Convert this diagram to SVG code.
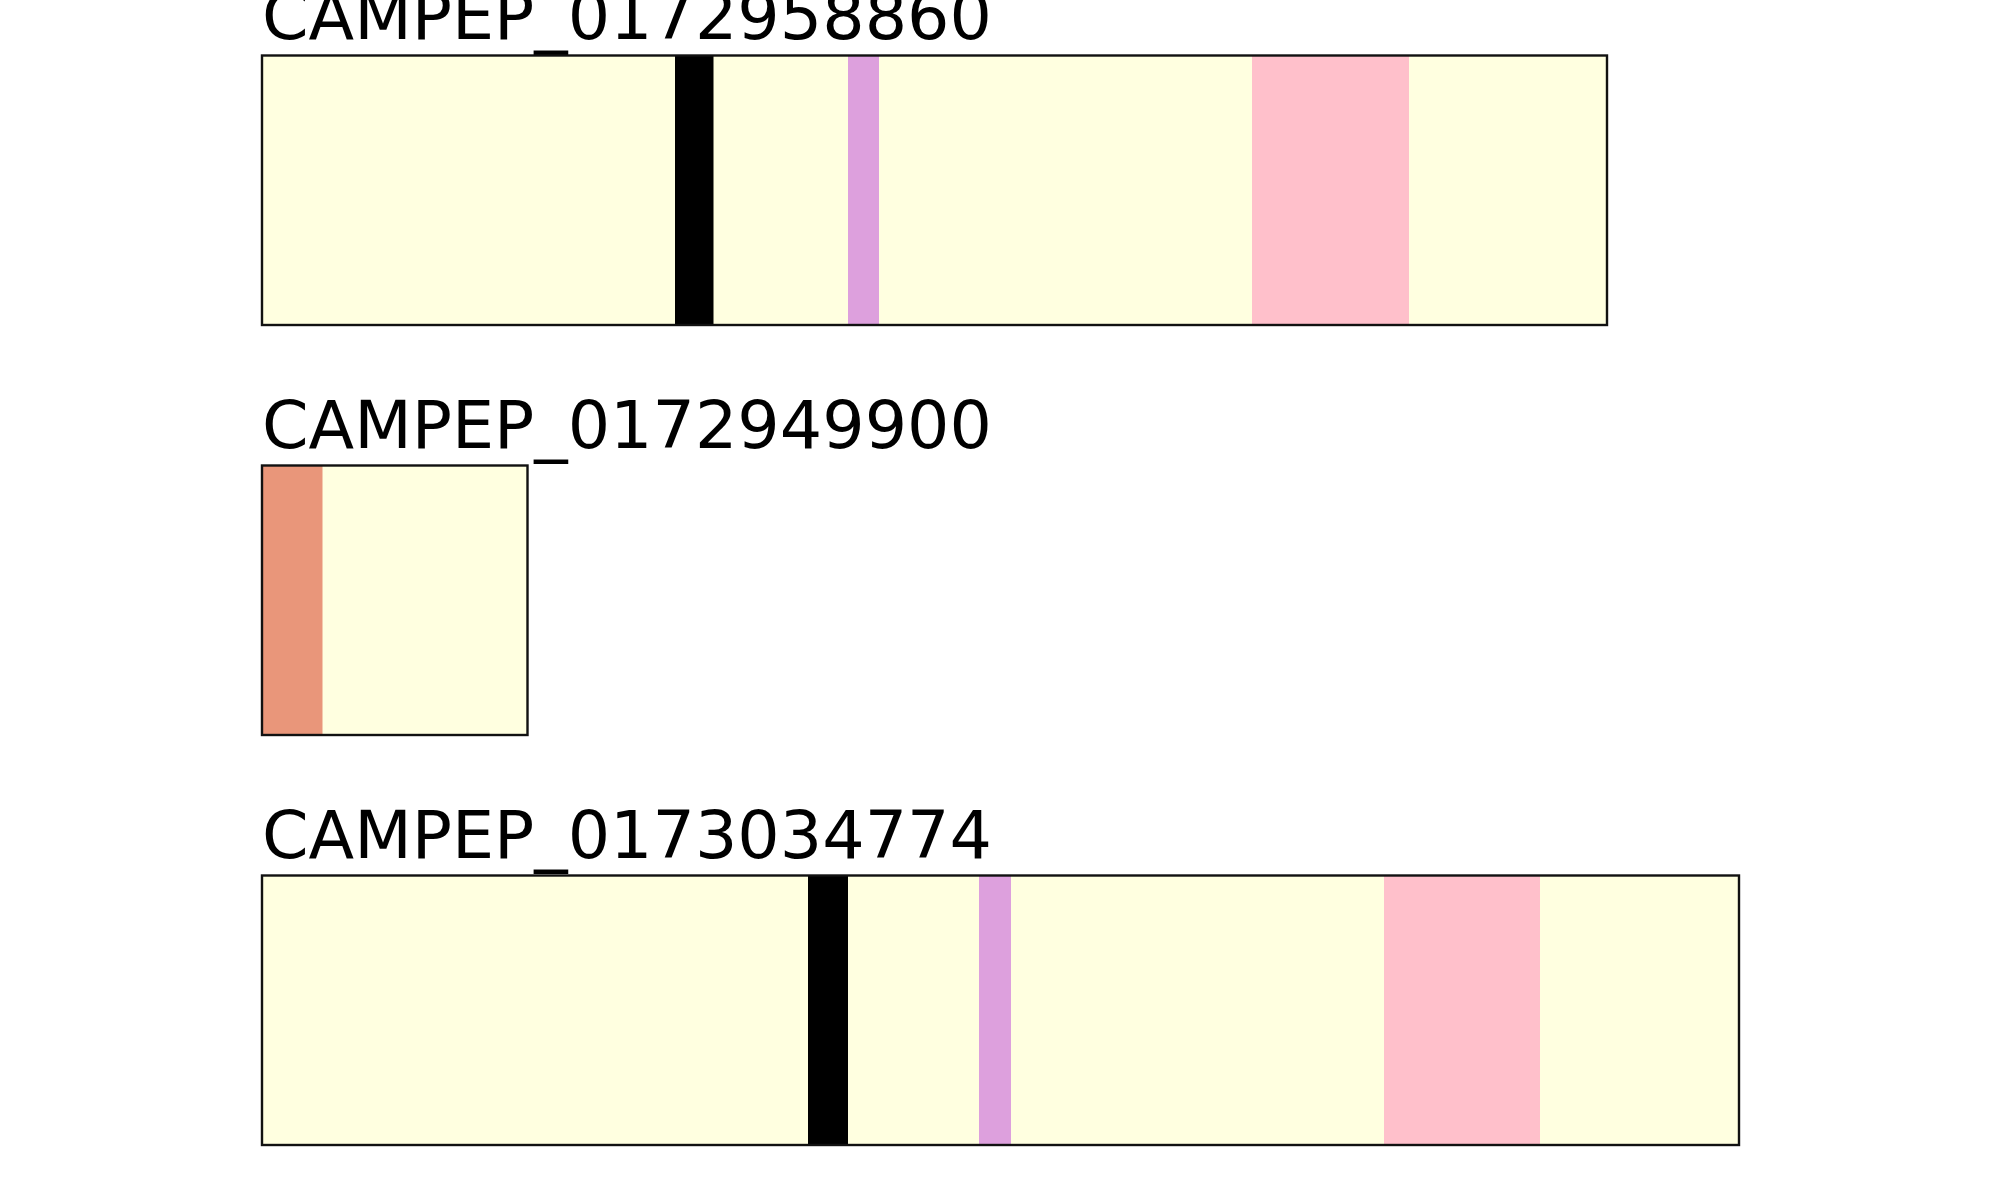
<svg xmlns="http://www.w3.org/2000/svg" width="2000" height="1200" viewBox="0 0 2000 1200">
<style>
.bg{fill:#ffffe0}
.frame{fill:none;stroke:#111;stroke-width:2.4}
.lbl{font-family:"DejaVu Sans",sans-serif;font-size:66.7px;fill:#000}
.blk{fill:#000}
.plum{fill:#dda0dd}
.pink{fill:#ffc0cb}
.salmon{fill:#e9967a}
</style>
<rect width="2000" height="1200" fill="#fff"/>
<g id="track1">
<text class="lbl" x="262" y="39">CAMPEP_0172958860</text>
<rect class="bg" x="262" y="55.5" width="1345" height="269.5"/>
<rect class="blk" x="675" y="55.5" width="38.5" height="269.5"/>
<rect class="plum" x="848" y="55.5" width="31" height="269.5"/>
<rect class="pink" x="1252" y="55.5" width="157" height="269.5"/>
<rect class="frame" x="262" y="55.5" width="1345" height="269.5"/>
</g>
<g id="track2">
<text class="lbl" x="262" y="448">CAMPEP_0172949900</text>
<rect class="bg" x="262" y="465.5" width="265.5" height="269.5"/>
<rect class="salmon" x="262" y="465.5" width="60.5" height="269.5"/>
<rect class="frame" x="262" y="465.5" width="265.5" height="269.5"/>
</g>
<g id="track3">
<text class="lbl" x="262" y="858">CAMPEP_0173034774</text>
<rect class="bg" x="262" y="875.5" width="1477" height="269.5"/>
<rect class="blk" x="808" y="875.5" width="40" height="269.5"/>
<rect class="plum" x="979" y="875.5" width="32" height="269.5"/>
<rect class="pink" x="1384" y="875.5" width="156" height="269.5"/>
<rect class="frame" x="262" y="875.5" width="1477" height="269.5"/>
</g>
<g id="connectors"/>
</svg>
